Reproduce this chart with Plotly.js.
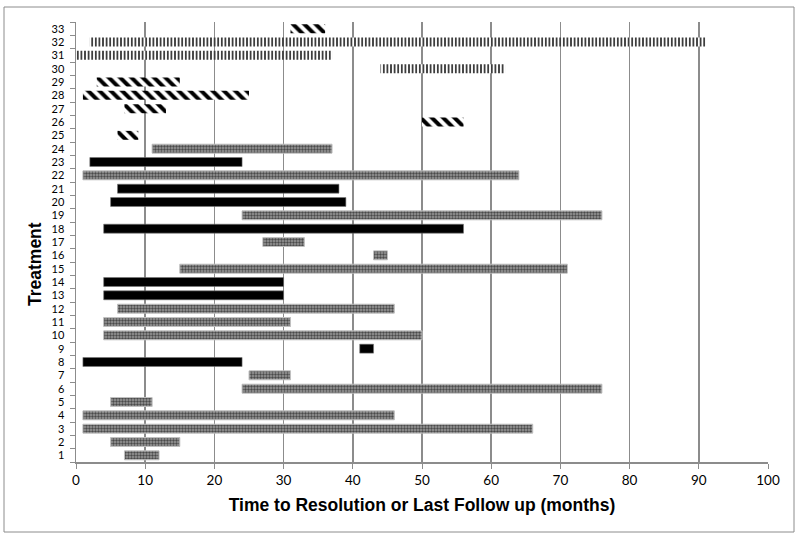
<!DOCTYPE html>
<html>
<head>
<meta charset="utf-8">
<script src="https://cdn.plot.ly/plotly-3.0.1.min.js"></script>
<style>
  body { margin: 0; background: #fff; }
  #chart { width: 800px; height: 539px; }
</style>
</head>
<body>
<div id="chart"></div>
<script>
// treatment rows, grouped by bar style
const hatchRows = [33, 29, 28, 27, 26, 25]
const hatchStart = [31, 3, 1, 7, 50, 6]
const hatchEnd = [36, 15, 25, 13, 56, 9]

const lineRows = [32, 31, 30]
const lineStart = [2, 0, 44]
const lineEnd = [91, 37, 62]

const grayRows = [24, 22, 19, 17, 16, 15, 12, 11, 10, 7, 6, 5, 4, 3, 2, 1]
const grayStart = [11, 1, 24, 27, 43, 15, 6, 4, 4, 25, 24, 5, 1, 1, 5, 7]
const grayEnd = [37, 64, 76, 33, 45, 71, 46, 31, 50, 31, 76, 11, 46, 66, 15, 12]

const blackRows = [23, 21, 20, 18, 14, 13, 9, 8]
const blackStart = [2, 6, 5, 4, 4, 4, 41, 1]
const blackEnd = [24, 38, 39, 56, 30, 30, 43, 24]

const treatments = []
for (let i = 1; i <= 33; i++) treatments.push(String(i))

function bars (rows, start, end, marker) {
  return {
    type: 'bar',
    orientation: 'h',
    y: rows.map(String),
    base: start,
    x: end.map((e, i) => e - start[i]),
    width: 0.67,
    marker: marker,
    showlegend: false,
    hoverinfo: 'skip'
  }
}

const gray = bars(grayRows, grayStart, grayEnd, {
  color: '#8a8a8a',
  line: { color: '#c0c0c0', width: 1 },
  pattern: { shape: '.', fgcolor: '#4a4a4a', bgcolor: '#9c9c9c', size: 3, solidity: 0.5 }
})

const black = bars(blackRows, blackStart, blackEnd, {
  color: '#000000',
  line: { color: '#777777', width: 0.6 }
})

const hatch = bars(hatchRows, hatchStart, hatchEnd, {
  color: '#ffffff',
  line: { width: 0 },
  pattern: { shape: '\\', fgcolor: '#000000', bgcolor: '#ffffff', size: 8, solidity: 0.5 }
})

const vlines = bars(lineRows, lineStart, lineEnd, {
  color: '#ffffff',
  line: { width: 0 },
  pattern: { shape: '|', fgcolor: '#000000', bgcolor: '#ffffff', size: 3.6, solidity: 0.38 }
})

const layout = {
  width: 800,
  height: 539,
  barmode: 'overlay',
  margin: { l: 76, r: 32, t: 22, b: 77 },
  paper_bgcolor: '#ffffff',
  plot_bgcolor: '#ffffff',
  font: { family: 'Lato, Liberation Sans, sans-serif', color: '#000' },
  xaxis: {
    range: [0, 100],
    dtick: 10,
    tick0: 0,
    showgrid: true,
    gridcolor: '#8c8c8c',
    gridwidth: 1.5,
    zeroline: false,
    showline: true,
    linecolor: '#8c8c8c',
    linewidth: 1.5,
    ticks: 'outside',
    ticklen: 5,
    tickcolor: '#8c8c8c',
    tickfont: { size: 13.5, family: 'Lato, sans-serif' },
    title: {
      text: 'Time to Resolution or Last Follow up (months)',
      font: { family: 'Liberation Sans, Arial, sans-serif', size: 17.5, weight: 'bold' },
      standoff: 12
    },
    fixedrange: true
  },
  yaxis: {
    type: 'category',
    categoryorder: 'array',
    categoryarray: treatments,
    range: [-0.5, 32.5],
    tickmode: 'array',
    tickvals: treatments,
    ticktext: treatments,
    tickson: 'boundaries',
    ticks: 'outside',
    ticklen: 5,
    tickcolor: '#8c8c8c',
    ticklabelstandoff: 8,
    showgrid: false,
    showline: true,
    linecolor: '#8c8c8c',
    linewidth: 1.5,
    tickfont: { size: 11, family: 'Lato, sans-serif' },
    fixedrange: true
  },
  annotations: [{
    text: 'Treatment',
    xref: 'paper',
    yref: 'paper',
    x: (35 - 76) / 692,
    y: (462 - 264) / 440,
    xanchor: 'center',
    yanchor: 'middle',
    textangle: -90,
    showarrow: false,
    font: { family: 'Liberation Sans, Arial, sans-serif', size: 17.5, weight: 'bold' }
  }],
  shapes: [{
    type: 'rect',
    xref: 'paper',
    yref: 'paper',
    x0: (4 - 76) / 692,
    x1: (794 - 76) / 692,
    y0: (462 - 532) / 440,
    y1: (462 - 7) / 440,
    line: { color: '#8c8c8c', width: 1 }
  }]
}

Plotly.newPlot('chart', [gray, black, hatch, vlines], layout, { staticPlot: true })
</script>
</body>
</html>
